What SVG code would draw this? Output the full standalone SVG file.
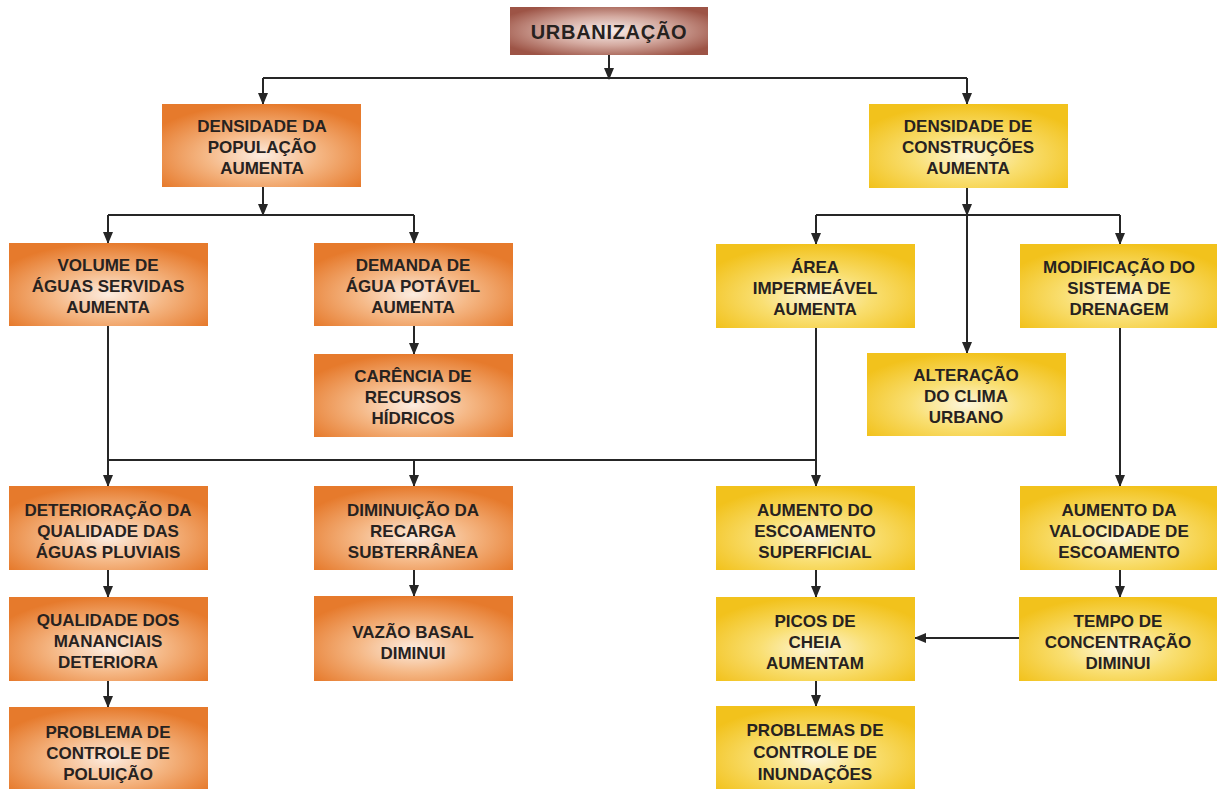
<svg xmlns="http://www.w3.org/2000/svg" width="1217" height="789" viewBox="0 0 1217 789">
<style>
.t{font-family:"Liberation Sans",Arial,sans-serif;font-weight:bold;font-size:17px;fill:#27221f;text-anchor:middle}
.t1{font-size:20px;letter-spacing:0.7px}
.o{fill:url(#gO)}
.y{fill:url(#gY)}
.b{fill:url(#gB)}
.c{stroke:#262626;stroke-width:2;fill:none}
.a{marker-end:url(#ah)}
</style>
<defs>
<radialGradient id="gO" cx="0.5" cy="0.62" r="0.62">
<stop offset="0" stop-color="#fcece0"/>
<stop offset="0.45" stop-color="#f5b886"/>
<stop offset="1" stop-color="#e67a2c"/>
</radialGradient>
<radialGradient id="gY" cx="0.5" cy="0.62" r="0.62">
<stop offset="0" stop-color="#fdf6dc"/>
<stop offset="0.45" stop-color="#f9df72"/>
<stop offset="1" stop-color="#f2c21c"/>
</radialGradient>
<radialGradient id="gB" cx="0.5" cy="0.5" r="0.6">
<stop offset="0" stop-color="#f8eeeb"/>
<stop offset="0.5" stop-color="#d4aaa0"/>
<stop offset="1" stop-color="#9d5446"/>
</radialGradient>
<marker id="ah" viewBox="0 0 12 10" refX="11" refY="5" markerWidth="12" markerHeight="10" markerUnits="userSpaceOnUse" orient="auto">
<path d="M0,0 L12,5 L0,10 z" fill="#262626"/>
</marker>
</defs>

<g id="connectors">
<path class="c a" d="M609,55 V79"/>
<path class="c" d="M263,78 H967"/>
<path class="c a" d="M263,78 V104"/>
<path class="c a" d="M967,78 V104"/>
<path class="c a" d="M263,187 V215"/>
<path class="c" d="M108,215 H414"/>
<path class="c a" d="M108,215 V243"/>
<path class="c a" d="M414,215 V243"/>
<path class="c a" d="M967,188 V215"/>
<path class="c" d="M816,215 H1120"/>
<path class="c a" d="M816,215 V244"/>
<path class="c a" d="M1120,215 V244"/>
<path class="c a" d="M967,215 V353"/>
<path class="c a" d="M414,326 V354"/>
<path class="c" d="M108,326 V460 H816 V328"/>
<path class="c a" d="M108,460 V486"/>
<path class="c a" d="M414,460 V486"/>
<path class="c a" d="M816,460 V486"/>
<path class="c a" d="M1120,328 V486"/>
<path class="c a" d="M108,570 V597"/>
<path class="c a" d="M108,681 V707"/>
<path class="c a" d="M414,570 V596"/>
<path class="c a" d="M816,570 V597"/>
<path class="c a" d="M816,681 V706"/>
<path class="c a" d="M1120,570 V597"/>
<path class="c a" d="M1019,638 H915"/>
</g>

<g id="urbanizacao"><rect class="b" x="510" y="7" width="198" height="48"/><text class="t t1" x="609" y="39">URBANIZAÇÃO</text></g>

<g id="dens-pop"><rect class="o" x="162" y="104" width="199" height="83"/><text class="t"><tspan x="262" y="132">DENSIDADE DA</tspan><tspan x="262" y="153">POPULAÇÃO</tspan><tspan x="262" y="174">AUMENTA</tspan></text></g>

<g id="dens-constr"><rect class="y" x="869" y="104" width="199" height="84"/><text class="t"><tspan x="968" y="132">DENSIDADE DE</tspan><tspan x="968" y="153">CONSTRUÇÕES</tspan><tspan x="968" y="174">AUMENTA</tspan></text></g>

<g id="volume"><rect class="o" x="9" y="243" width="199" height="83"/><text class="t"><tspan x="108" y="271">VOLUME DE</tspan><tspan x="108" y="292">ÁGUAS SERVIDAS</tspan><tspan x="108" y="313">AUMENTA</tspan></text></g>

<g id="demanda"><rect class="o" x="314" y="243" width="199" height="83"/><text class="t"><tspan x="413" y="271">DEMANDA DE</tspan><tspan x="413" y="292">ÁGUA POTÁVEL</tspan><tspan x="413" y="313">AUMENTA</tspan></text></g>

<g id="carencia"><rect class="o" x="314" y="354" width="199" height="83"/><text class="t"><tspan x="413" y="382">CARÊNCIA DE</tspan><tspan x="413" y="403">RECURSOS</tspan><tspan x="413" y="424">HÍDRICOS</tspan></text></g>

<g id="area"><rect class="y" x="716" y="244" width="199" height="84"/><text class="t"><tspan x="815" y="273">ÁREA</tspan><tspan x="815" y="294">IMPERMEÁVEL</tspan><tspan x="815" y="315">AUMENTA</tspan></text></g>

<g id="alteracao"><rect class="y" x="867" y="353" width="199" height="83"/><text class="t"><tspan x="966" y="381">ALTERAÇÃO</tspan><tspan x="966" y="402">DO CLIMA</tspan><tspan x="966" y="423">URBANO</tspan></text></g>

<g id="modificacao"><rect class="y" x="1020" y="244" width="197" height="84"/><text class="t"><tspan x="1119" y="273">MODIFICAÇÃO DO</tspan><tspan x="1119" y="294">SISTEMA DE</tspan><tspan x="1119" y="315">DRENAGEM</tspan></text></g>

<g id="deterioracao"><rect class="o" x="9" y="486" width="199" height="84"/><text class="t"><tspan x="108" y="516">DETERIORAÇÃO DA</tspan><tspan x="108" y="537">QUALIDADE DAS</tspan><tspan x="108" y="558">ÁGUAS PLUVIAIS</tspan></text></g>

<g id="qualidade"><rect class="o" x="9" y="597" width="199" height="84"/><text class="t"><tspan x="108" y="626">QUALIDADE DOS</tspan><tspan x="108" y="647">MANANCIAIS</tspan><tspan x="108" y="668">DETERIORA</tspan></text></g>

<g id="problema-poluicao"><rect class="o" x="9" y="707" width="199" height="84"/><text class="t"><tspan x="108" y="738">PROBLEMA DE</tspan><tspan x="108" y="759">CONTROLE DE</tspan><tspan x="108" y="780">POLUIÇÃO</tspan></text></g>

<g id="diminuicao"><rect class="o" x="314" y="486" width="199" height="84"/><text class="t"><tspan x="413" y="516">DIMINUIÇÃO DA</tspan><tspan x="413" y="537">RECARGA</tspan><tspan x="413" y="558">SUBTERRÂNEA</tspan></text></g>

<g id="vazao"><rect class="o" x="314" y="596" width="199" height="85"/><text class="t"><tspan x="413" y="638">VAZÃO BASAL</tspan><tspan x="413" y="659">DIMINUI</tspan></text></g>

<g id="aumento-escoamento"><rect class="y" x="716" y="486" width="199" height="84"/><text class="t"><tspan x="815" y="516">AUMENTO DO</tspan><tspan x="815" y="537">ESCOAMENTO</tspan><tspan x="815" y="558">SUPERFICIAL</tspan></text></g>

<g id="picos"><rect class="y" x="716" y="597" width="199" height="84"/><text class="t"><tspan x="815" y="627">PICOS DE</tspan><tspan x="815" y="648">CHEIA</tspan><tspan x="815" y="669">AUMENTAM</tspan></text></g>

<g id="problemas-inundacoes"><rect class="y" x="716" y="706" width="199" height="85"/><text class="t"><tspan x="815" y="736">PROBLEMAS DE</tspan><tspan x="815" y="758">CONTROLE DE</tspan><tspan x="815" y="780">INUNDAÇÕES</tspan></text></g>

<g id="aumento-velocidade"><rect class="y" x="1020" y="486" width="197" height="84"/><text class="t"><tspan x="1119" y="516">AUMENTO DA</tspan><tspan x="1119" y="537">VALOCIDADE DE</tspan><tspan x="1119" y="558">ESCOAMENTO</tspan></text></g>

<g id="tempo"><rect class="y" x="1019" y="597" width="198" height="84"/><text class="t"><tspan x="1118" y="627">TEMPO DE</tspan><tspan x="1118" y="648">CONCENTRAÇÃO</tspan><tspan x="1118" y="669">DIMINUI</tspan></text></g>
</svg>
